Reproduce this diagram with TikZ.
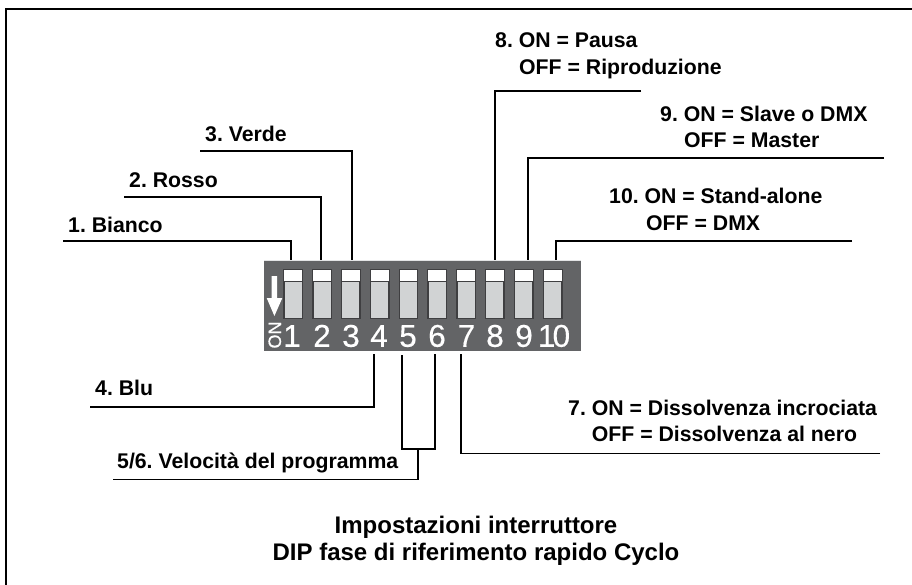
\documentclass[tikz,border=0pt]{standalone}
\usepackage{fontspec}
\setmainfont{Liberation Sans}
\newfontfamily\numfont[FakeBold=0.4]{Liberation Sans}
\frenchspacing
\definecolor{panelgray}{HTML}{636466}
\definecolor{slotgray}{HTML}{D1D3D4}
\definecolor{slotedge}{HTML}{3F3F41}
\tikzset{
  x=1pt,y=-1pt,
  frameline/.style={line width=2pt,black},
  lead/.style={line width=1.8pt,black,line join=miter},
  lbl/.style={anchor=base west,inner sep=0pt,font=\fontsize{21.25}{24}\selectfont\bfseries,text=black},
  ttl/.style={anchor=base,inner sep=0pt,font=\fontsize{24}{28}\selectfont\bfseries,text=black},
  slotbox/.style={draw=slotedge,line width=0.8pt,fill=slotgray,minimum width=18pt,minimum height=48pt,inner sep=0pt,anchor=north},
  numlbl/.style={anchor=base,inner sep=0pt,text=white,font=\fontsize{31.5}{31}\numfont\selectfont},
  panelbox/.style={fill=panelgray,draw=none,inner sep=0pt,anchor=north west,minimum width=317pt,minimum height=91pt},
}
\begin{document}
\begin{tikzpicture}
\useasboundingbox (0,0) rectangle (912,585);
\fill[white] (0,0) rectangle (912,585);
% open frame
\coordinate (fa) at (6,585); \coordinate (fb) at (6,9); \coordinate (fc) at (912,9);
\draw[frameline] (fa) -- (fb) -- (fc);
% panel
\node[panelbox] (panel) at (264,260) {};
\draw[slotgray!60,line width=0.8pt] (panel.north west) -- (panel.north east);
% slots
\foreach \i/\x in {1/293.2,2/322,3/350.8,4/379.6,5/408.4,6/437.2,7/466,8/494.8,9/523.6,10/552.6}{
  \node[slotbox] (s\i) at (\x,269.5) {};
  \fill[white] (s\i.north west) rectangle ([yshift=-11.5pt]s\i.north east);
  \draw[slotedge,line width=0.8pt] (s\i.north west) rectangle (s\i.south east);
  \draw[slotedge,line width=0.8pt] ([yshift=-11.5pt]s\i.north west) -- ([yshift=-11.5pt]s\i.north east);
}
% numbers
\foreach \i/\x in {1/292,2/322,3/351,4/379,5/408,6/437,7/466.5,8/495,9/524}{
  \node[numlbl] (n\i) at (\x,346.8) {\i};
}
\node[numlbl] (n10) at (554,346.8) {\addfontfeature{LetterSpace=-9}10};
% ON and arrow
\node[inner sep=0pt,text=white,rotate=90,anchor=base,font=\fontsize{18}{18}\numfont\selectfont] (on) at (281,335) {ON};
\fill[white] (271.7,276) -- (277,276) -- (277,298) -- (282.3,298) -- (274.4,316) -- (266.7,298) -- (271.7,298) -- cycle;
% labels
\node[lbl] (l1) at (68,233) {1. Bianco};
\node[lbl] (l2) at (129,187.7) {2. Rosso};
\node[lbl] (l3) at (205,142) {3. Verde};
\node[lbl] (l4) at (95,395.7) {4. Blu};
\node[lbl] (l56) at (117,468.3) {5/6. Velocità del programma};
\node[lbl] (l7a) at (568,415) {7. ON = Dissolvenza incrociata};
\node[lbl] (l7b) at (591.7,441) {OFF = Dissolvenza al nero};
\node[lbl] (l8a) at (495,48) {8. ON = Pausa};
\node[lbl] (l8b) at (519,75) {OFF = Riproduzione};
\node[lbl] (l9a) at (660,121.7) {9. ON = Slave o DMX};
\node[lbl] (l9b) at (684,147.7) {OFF = Master};
\node[lbl] (l10a) at (609,204) {10. ON = Stand-alone};
\node[lbl] (l10b) at (646,230.7) {OFF = DMX};
\node[ttl] (t1) at (476,533) {Impostazioni interruttore};
\node[ttl] (t2) at (476,560) {DIP fase di riferimento rapido Cyclo};
% connector ends
\coordinate (c1) at (63,240.7);  \coordinate (e1) at (291,260);
\coordinate (c2) at (124,196.7); \coordinate (e2) at (321,260);
\coordinate (c3) at (200,150.7); \coordinate (e3) at (352,260);
\coordinate (c8) at (641,90.7);  \coordinate (e8) at (495,260);
\coordinate (c9) at (884,158);   \coordinate (e9) at (528,260);
\coordinate (c10) at (852,240.7);\coordinate (e10) at (556,260);
\coordinate (c4) at (90,406.7);  \coordinate (e4) at (374,354);
\coordinate (e5) at (402,355);   \coordinate (e6) at (435,354);
\coordinate (j56) at (418,449.3);\coordinate (c56) at (113,479.5);
\coordinate (c7) at (880,453.5); \coordinate (e7) at (460.7,354);
\draw[lead] (c1) -| (e1);
\draw[lead] (c2) -| (e2);
\draw[lead] (c3) -| (e3);
\draw[lead] (c8) -| (e8);
\draw[lead] (c9) -| (e9);
\draw[lead] (c10) -| (e10);
\draw[lead] (c4) -| (e4);
\draw[lead] (e5) |- (j56) -| (e6);
\draw[lead] (j56) |- (c56);
\draw[lead] (c7) -| (e7);
\end{tikzpicture}
\end{document}
